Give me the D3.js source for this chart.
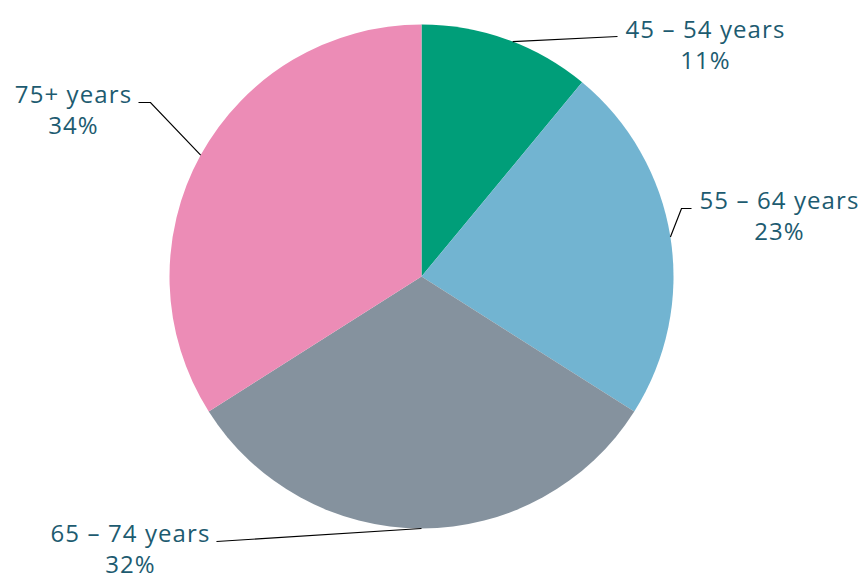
<!DOCTYPE html>
<html>
<head>
<meta charset="utf-8">
<script src="https://cdn.jsdelivr.net/npm/d3@7"></script>
<style>
  body { margin: 0; background: #fff; }
  text { font-family: "Open Sans", "DejaVu Sans", sans-serif; }
</style>
</head>
<body>
<svg id="chart" width="866" height="578"></svg>
<script>
// data
var categories = ["45 – 54 years", "55 – 64 years", "65 – 74 years", "75+ years"];
var shares = [11, 23, 32, 34];
var colors = ["#009e79", "#72b4d1", "#85929e", "#ec8cb6"];

var svg = d3.select("#chart"),
  width = +svg.attr("width"),
  height = +svg.attr("height");

var cx = 421.5, cy = 276.5, radius = 252;

var pie = d3.pie().sort(null).value(function(d) { return d; });
var arcs = pie(shares);

var arc = d3.arc().innerRadius(0).outerRadius(radius);

var g = svg.append("g").attr("transform", "translate(" + cx + "," + cy + ")");

g.selectAll("path")
  .data(arcs)
  .enter().append("path")
  .attr("d", arc)
  .attr("fill", function(d, i) { return colors[i]; });

// label layout (relative to center): elbow point, line end, text center, first baseline
var labelPos = [
  { elbow: [196, -240], end: [196, -240], tx: 284, ty: -239 },
  { elbow: [260, -68], end: [270, -68], tx: 358, ty: -68 },
  { elbow: [-205, 265], end: [-205, 265], tx: -291, ty: 265 },
  { elbow: [-271, -174], end: [-283, -174], tx: -348, ty: -174 }
];

var labels = g.append("g");

arcs.forEach(function(d, i) {
  var mid = (d.startAngle + d.endAngle) / 2;
  var p = labelPos[i];
  var sx = Math.sin(mid) * radius, sy = -Math.cos(mid) * radius;
  // start where the leader hits the edge
  var start;
  if (i == 0) start = [Math.sin(d.startAngle + 0.37) * radius, -Math.cos(d.startAngle + 0.37) * radius];
  else if (i == 2) start = [Math.sin(Math.PI) * radius, -Math.cos(Math.PI) * radius];
  else start = [sx, sy];

  labels.append("polyline")
    .attr("points", [start, p.elbow, p.end].map(function(q) { return q.join(","); }).join(" "))
    .attr("fill", "none")
    .attr("stroke", "#000")
    .attr("stroke-width", 1.2);

  var t = labels.append("text")
    .attr("text-anchor", "middle")
    .attr("fill", "#1d5b70")
    .style("font-size", "24px")
    .style("letter-spacing", "1.1px");
  t.append("tspan").attr("x", p.tx).attr("y", p.ty).text(categories[i]);
  t.append("tspan").attr("x", p.tx).attr("y", p.ty + 31).text(shares[i] + "%");
});
</script>
</body>
</html>
